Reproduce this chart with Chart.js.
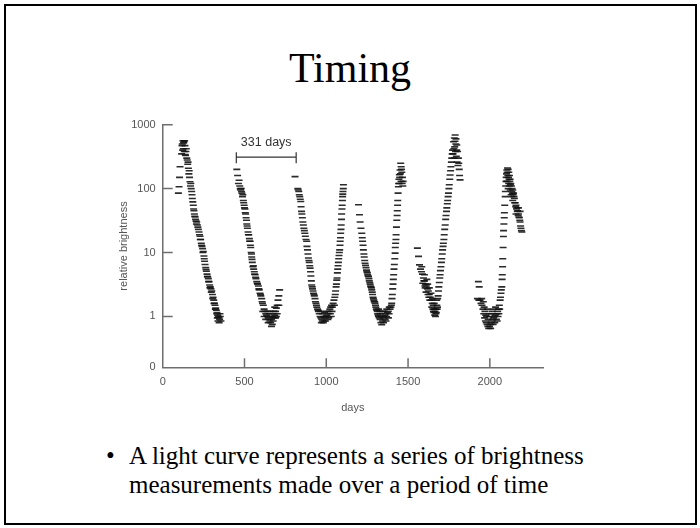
<!DOCTYPE html>
<html>
<head>
<meta charset="utf-8">
<script src="https://cdn.jsdelivr.net/npm/chart.js@4.4.1/dist/chart.umd.min.js"></script>
<style>
  html, body { margin: 0; padding: 0; background: #fff; }
  body { width: 700px; height: 528px; position: relative; overflow: hidden; }
  #frame { position: absolute; left: 4px; top: 4px; width: 689px; height: 517px; border: 2px solid #000; }
  #title { position: absolute; left: 0; top: 47px; width: 700px; text-align: center;
           font: 42px/42px "Liberation Serif", "Times New Roman", serif; color: #000; }
  .body { position: absolute; top: 441px; font: 25px/29px "Liberation Serif", "Times New Roman", serif; color: #000; }
  #dot { left: 106px; }
  #text { left: 129px; width: 560px; }
  canvas { position: absolute; left: 0; top: 0; }
</style>
</head>
<body>
<div id="frame"></div>
<div id="title">Timing</div>
<div class="body" id="dot">•</div>
<div class="body" id="text">A light curve represents a series of brightness<br>measurements made over a period of time</div>
<canvas id="lightCurve" width="700" height="528"></canvas>
<script>
// light curve readings: [day, relative brightness], one list per cycle
const cycle1 = [[96,85],[100,107],[103,150],[106,220],[116,350],[118,470],[120,500],[122,400],[124,560],[126,420],[128,520],[130,540],[132,380],[134,560],[136,470],[138,340],[140,330],[142,380],[144,420],[147,300],[150,280],[153,240],[155,260],[157,208],[160,170],[162,190],[164,150],[167,128],[170,110],[172,120],[174,100],[177,90],[179,80],[181,70],[184,62],[187,55],[189,48],[191,45],[194,40],[196,37],[198,36],[201,33],[204,31],[206,28],[208,30],[212,27],[215,25],[218,23],[222,21],[225,19],[228,18],[230,16],[232,16],[236,14],[238,13],[240,12.5],[244,11.5],[246,10],[248,10.4],[252,8.8],[254,8],[256,7.3],[259,6.5],[263,5.8],[265,5.4],[267,5.1],[271,4.6],[273,4.2],[275,4.2],[279,3.9],[281,3.5],[283,3.5],[287,3.1],[289,2.8],[291,2.9],[295,2.7],[297,2.4],[300,2.5],[304,2.2],[306,1.9],[308,2.0],[312,1.8],[314,1.6],[316,1.6],[320,1.5],[322,1.3],[324,1.35],[328,1.25],[330,1.1],[332,1.15],[334,0.95],[336,1.05],[338,0.85],[340,1.0],[344,0.95],[345,0.8],[348,0.9],[350,1.1],[352,1.0],[356,0.85]];
const cycle2 = [[453,200],[458,160],[463,120],[467,135],[471,110],[474,100],[476,95],[480,100],[482,90],[484,85],[488,75],[490,80],[493,65],[495,60],[498,55],[500,50],[503,48],[505,42],[507,40],[510,35],[512,32],[514,28],[516,26],[518,24],[522,21],[524,19],[526,19],[530,16.5],[532,15],[534,15],[536,13],[538,12],[541,10],[543,9.5],[544,8.5],[546,7.8],[548,7],[552,6],[554,6.2],[556,5.5],[560,5],[562,4.6],[565,4.5],[568,4.1],[570,3.9],[575,3.5],[578,3.3],[580,3.2],[585,3.0],[588,2.7],[590,2.6],[595,2.3],[598,2.2],[600,2.1],[605,1.9],[608,1.7],[610,1.6],[612,1.2],[615,1.5],[620,1.3],[620,1.0],[625,1.2],[630,1.1],[630,0.9],[635,1.05],[640,1.0],[640,1.2],[645,0.95],[645,0.8],[650,0.9],[650,1.1],[655,0.85],[655,1.2],[660,0.8],[660,1.0],[665,0.7],[665,0.9],[670,0.75],[670,1.0],[675,0.85],[675,1.1],[680,0.95],[680,1.2],[685,1.05],[685,1.4],[690,1.2],[690,0.95],[695,1.35],[695,1.0],[700,1.5],[700,1.1],[705,1.8],[710,2.1],[710,1.5],[715,2.6]];
const cycle3 = [[809,154],[826,100],[829,95],[832,90],[835,80],[838,75],[841,68],[844,63],[846,52],[849,44],[851,40],[854,35],[857,30],[860,27],[863,24],[866,22],[869,20],[872,18],[876,16],[880,15],[882,12.5],[885,11],[888,9.5],[891,8.2],[894,7.5],[896,7],[899,6.2],[901,5.7],[904,5],[906,4.3],[909,3.6],[911,3.1],[914,2.9],[916,2.7],[919,2.5],[922,2.3],[925,2.2],[927,2.1],[931,1.9],[934,1.7],[937,1.6],[940,1.5],[942,1.4],[947,1.3],[950,1.25],[952,1.2],[957,1.1],[962,1.0],[965,1.2],[967,0.95],[970,0.8],[972,0.9],[975,1.1],[977,0.85],[982,0.8],[985,1.0],[987,0.85],[990,1.15],[992,0.95],[995,0.85],[997,1.0],[1002,1.05],[1005,1.2],[1007,1.0],[1010,0.9],[1012,1.1],[1015,0.95],[1017,1.2],[1022,1.3],[1025,1.1],[1027,1.4],[1030,1.0],[1032,1.5],[1035,1.2],[1037,1.4],[1042,1.6],[1047,1.8],[1050,1.5],[1052,2.0],[1055,2.2],[1057,2.5],[1060,2.9],[1062,3.2],[1064,3.7],[1066,4.0],[1068,4.8],[1070,5.5],[1072,6.2],[1074,7],[1076,8],[1078,9],[1080,10],[1082,11],[1084,13],[1085,15],[1087,17],[1088,20],[1090,23],[1091,27],[1093,33],[1094,40],[1096,48],[1097,55],[1099,65],[1100,75],[1101,82],[1102,90],[1104,100],[1105,115]];
const cycle4 = [[1197,56],[1203,39],[1207,30],[1212,24],[1217,20],[1220,17],[1222,15],[1225,13],[1227,11],[1230,9.5],[1232,8.5],[1235,7.5],[1237,6.8],[1240,6.3],[1243,5.8],[1246,5.3],[1248,5.0],[1251,4.8],[1253,4.5],[1256,4.3],[1258,4.2],[1261,3.9],[1263,3.6],[1266,3.4],[1268,3.2],[1271,3.0],[1273,2.9],[1276,2.8],[1278,2.6],[1281,2.4],[1283,2.2],[1286,2.0],[1288,1.9],[1291,1.8],[1293,1.7],[1296,1.7],[1298,1.6],[1301,1.5],[1303,1.4],[1306,1.3],[1309,1.25],[1312,1.2],[1314,1.1],[1317,1.05],[1319,1.0],[1320,1.3],[1324,0.95],[1327,1.2],[1329,0.9],[1330,1.1],[1334,0.8],[1335,1.0],[1339,0.74],[1340,1.0],[1344,0.85],[1345,1.2],[1349,0.95],[1350,0.8],[1354,1.0],[1355,1.2],[1359,1.05],[1360,0.9],[1364,1.1],[1365,0.85],[1369,1.0],[1370,1.3],[1374,1.15],[1379,1.2],[1380,0.95],[1384,1.1],[1385,1.4],[1390,1.3],[1395,1.4],[1398,1.5],[1400,1.6],[1402,1.9],[1404,2.2],[1406,2.7],[1408,3.2],[1410,3.8],[1412,4.5],[1414,5.5],[1416,6.5],[1419,8],[1421,9.8],[1422,12],[1424,14],[1426,16],[1427,19],[1429,25],[1431,32],[1433,38],[1434,45],[1436,55],[1437,65],[1439,85],[1441,107],[1443,120],[1444,140],[1445,120],[1447,165],[1449,150],[1451,195],[1453,170],[1455,250],[1457,130],[1458,220],[1460,200],[1462,180],[1464,120],[1466,150],[1468,110],[1470,130]];
const cycle5 = [[1557,11.7],[1564,8.7],[1570,6.4],[1576,5.5],[1582,5.0],[1584,6.0],[1588,4.6],[1590,3.3],[1594,4.0],[1597,3.6],[1600,3.6],[1600,4.5],[1603,3.0],[1605,2.8],[1606,3.2],[1610,2.4],[1612,3.0],[1615,3.8],[1618,2.7],[1620,3.2],[1622,2.2],[1624,2.5],[1627,2.0],[1630,2.2],[1630,2.8],[1633,1.8],[1636,2.0],[1640,2.3],[1642,1.8],[1645,1.4],[1648,1.6],[1650,1.9],[1652,1.3],[1654,1.5],[1655,1.2],[1658,1.15],[1660,1.3],[1660,1.6],[1663,1.05],[1665,1.2],[1668,1.0],[1670,1.3],[1670,1.1],[1673,1.15],[1675,1.8],[1676,1.5],[1678,1.3],[1680,1.4],[1681,1.9],[1684,2.1],[1686,2.5],[1688,2.9],[1691,3.4],[1694,4.0],[1696,4.5],[1698,5.2],[1701,6],[1704,7],[1706,8],[1709,9.5],[1711,11],[1714,12.5],[1716,14],[1719,16],[1721,19],[1724,23],[1727,27],[1730,33],[1732,38],[1735,44],[1737,50],[1740,58],[1742,65],[1745,75],[1747,85],[1750,100],[1752,115],[1755,140],[1757,163],[1760,190],[1762,220],[1765,260],[1767,300],[1770,350],[1772,400],[1775,350],[1778,540],[1780,420],[1782,300],[1783,620],[1785,450],[1787,550],[1788,690],[1790,380],[1792,500],[1793,600],[1795,320],[1797,400],[1798,480],[1800,260],[1803,380],[1805,230],[1808,300],[1810,250],[1813,200],[1815,160],[1818,137]];
const cycle6 = [[1924,1.9],[1930,3.5],[1933,1.8],[1935,2.9],[1940,1.8],[1946,1.6],[1950,1.9],[1952,1.5],[1958,1.3],[1960,1.7],[1963,1.1],[1965,1.4],[1968,0.95],[1970,1.2],[1973,0.85],[1975,1.05],[1978,0.8],[1980,1.0],[1983,0.75],[1985,1.3],[1988,0.7],[1990,0.9],[1993,0.65],[1995,1.1],[1998,0.7],[2000,1.0],[2003,0.75],[2005,0.65],[2008,0.8],[2010,1.1],[2013,0.85],[2015,1.2],[2018,0.9],[2020,0.75],[2023,0.95],[2025,1.3],[2028,1.0],[2030,0.8],[2033,1.05],[2035,1.4],[2038,1.1],[2040,0.9],[2043,1.1],[2045,0.85],[2048,1.2],[2050,1.0],[2053,1.3],[2055,1.1],[2058,1.5],[2060,1.3],[2063,1.8],[2065,2.0],[2068,2.3],[2070,2.6],[2073,2.9],[2075,3.8],[2076,4.5],[2078,6],[2079,8],[2081,12],[2083,17.8],[2084,22],[2086,28],[2088,35],[2089,42],[2091,55],[2094,75],[2095,90],[2097,110],[2099,130],[2100,150],[2102,170],[2104,195],[2105,130],[2106,180],[2108,210],[2110,160],[2112,200],[2112,100],[2114,150],[2115,120],[2116,180],[2118,140],[2120,160],[2120,110],[2122,130],[2124,140],[2125,95],[2126,115],[2128,120],[2130,80],[2132,110],[2134,90],[2135,75],[2136,100],[2138,85],[2140,95],[2140,65],[2143,80],[2145,85],[2148,75],[2150,70],[2152,60],[2155,60],[2158,52],[2160,55],[2160,40],[2163,48],[2165,50],[2168,44],[2170,45],[2173,38],[2175,40],[2175,50],[2178,36],[2180,35],[2183,32],[2185,30],[2185,44],[2188,26],[2190,24],[2193,22],[2196,21]];

// axes
const xTicks = [0, 500, 1000, 1500, 2000];
const yTicks = [0.16, 1, 10, 100, 1000];
const yTickLabels = ['0', '1', '10', '100', '1000'];
const xMax = 2325;

// period marker
const periodLabel = '331 days';
const periodFrom = 450;
const periodTo = 816;
const periodLevel = 310;

const axisGrey = '#6e6e6e';
const labelGrey = '#555';
const sans = '"Liberation Sans", Arial, sans-serif';

const points = [cycle1, cycle2, cycle3, cycle4, cycle5, cycle6]
  .flat()
  .map(p => ({ x: p[0], y: p[1] }));

// tick marks pointing into the plot, plus the period bracket
const extras = {
  id: 'extras',
  afterDraw(chart) {
    const { ctx, chartArea: a, scales: { x, y } } = chart;
    ctx.save();
    ctx.strokeStyle = axisGrey;
    ctx.lineWidth = 1.5;
    ctx.beginPath();
    xTicks.forEach(v => {
      if (v === 0) return;
      const px = x.getPixelForValue(v);
      ctx.moveTo(px, a.bottom);
      ctx.lineTo(px, a.bottom - 9);
    });
    yTicks.forEach(v => {
      if (v === yTicks[0]) return;
      const py = y.getPixelForValue(v);
      ctx.moveTo(a.left, py);
      ctx.lineTo(a.left + 10, py);
    });
    ctx.stroke();

    const x0 = x.getPixelForValue(periodFrom);
    const x1 = x.getPixelForValue(periodTo);
    const py = y.getPixelForValue(periodLevel);
    ctx.strokeStyle = '#333';
    ctx.lineWidth = 1.2;
    ctx.beginPath();
    ctx.moveTo(x0, py); ctx.lineTo(x1, py);
    ctx.moveTo(x0, py - 5); ctx.lineTo(x0, py + 6);
    ctx.moveTo(x1, py - 5); ctx.lineTo(x1, py + 6);
    ctx.stroke();
    ctx.fillStyle = '#333';
    ctx.font = '12.5px ' + sans;
    ctx.textAlign = 'center';
    ctx.textBaseline = 'bottom';
    ctx.fillText(periodLabel, (x0 + x1) / 2, py - 8);
    ctx.restore();
  }
};

new Chart(document.getElementById('lightCurve'), {
  type: 'scatter',
  data: {
    datasets: [{
      data: points,
      pointStyle: 'line',
      pointRadius: 3.5,
      pointBorderWidth: 1.6,
      borderColor: 'rgba(20,20,20,0.9)',
      backgroundColor: 'rgba(20,20,20,0.9)'
    }]
  },
  options: {
    responsive: false,
    animation: false,
    events: [],
    layout: { padding: { left: 113.4, right: 157, top: 124.7, bottom: 109.4 } },
    plugins: { legend: { display: false }, tooltip: { enabled: false } },
    scales: {
      x: {
        type: 'linear',
        min: 0,
        max: xMax,
        afterBuildTicks: s => { s.ticks = xTicks.map(v => ({ value: v })); },
        afterFit: s => { s.height = 51.3; },
        grid: { display: false, drawTicks: false },
        border: { color: axisGrey, width: 1.5 },
        ticks: { padding: 8, color: labelGrey, font: { family: sans, size: 11 }, callback: v => String(v) },
        title: { display: true, text: 'days', color: labelGrey, font: { family: sans, size: 11 } }
      },
      y: {
        type: 'logarithmic',
        min: yTicks[0],
        max: 1000,
        afterBuildTicks: s => { s.ticks = yTicks.map(v => ({ value: v })); },
        afterFit: s => { s.width = 49.3; },
        grid: { display: false, drawTicks: false },
        border: { color: axisGrey, width: 1.5 },
        ticks: { padding: 7, color: labelGrey, font: { family: sans, size: 11 }, callback: (v, i) => yTickLabels[i] },
        title: { display: true, text: 'relative brightness', color: labelGrey, font: { family: sans, size: 11 } }
      }
    }
  },
  plugins: [extras]
});
</script>
</body>
</html>
